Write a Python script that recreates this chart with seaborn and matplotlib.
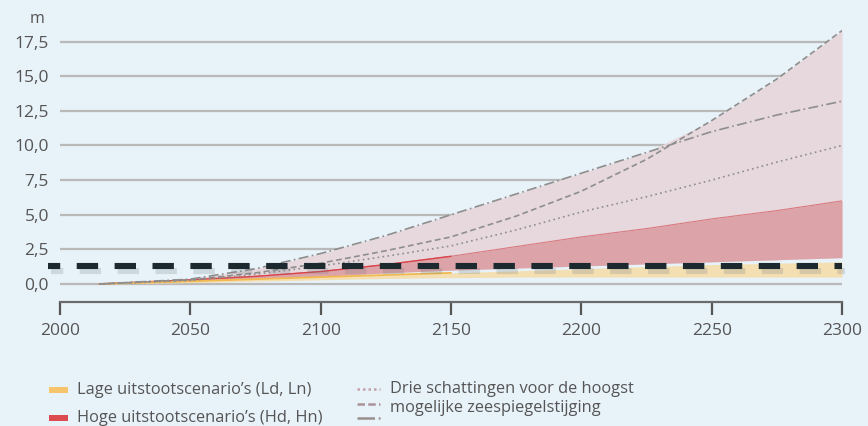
import matplotlib
matplotlib.use("Agg")
import matplotlib.pyplot as plt
import matplotlib.patheffects as pe
from matplotlib.lines import Line2D
from matplotlib.patches import Rectangle
import numpy as np
import pandas as pd
import seaborn as sns

# ---------------- data ----------------
years = [2015, 2050, 2075, 2100, 2125, 2150, 2175, 2200, 2225, 2250, 2275, 2300]
max_dotted = [0, 0.25, 0.7, 1.3, 2.0, 2.75, 3.9, 5.2, 6.3, 7.5, 8.8, 10.0]
max_dashed = [0, 0.3, 0.8, 1.5, 2.4, 3.4, 4.9, 6.7, 9.0, 11.8, 14.8, 18.3]
max_dashdot = [0, 0.35, 1.1, 2.2, 3.5, 5.0, 6.5, 8.0, 9.5, 11.0, 12.2, 13.2]
high_lo = [0, 0.15, 0.35, 0.55, 0.8, 1.0, 1.15, 1.3, 1.45, 1.6, 1.75, 1.9]
high_hi = [0, 0.3, 0.55, 0.9, 1.4, 2.0, 2.7, 3.4, 4.0, 4.7, 5.3, 6.0]
low_lo = [0, 0.1, 0.2, 0.3, 0.4, 0.45, 0.5, 0.5, 0.5, 0.5, 0.5, 0.5]
low_hi = [0, 0.2, 0.35, 0.5, 0.65, 0.8, 0.95, 1.1, 1.25, 1.4, 1.5, 1.6]
threshold = 1.3
x_ticks = [2000, 2050, 2100, 2150, 2200, 2250, 2300]
y_ticks = [0.0, 2.5, 5.0, 7.5, 10.0, 12.5, 15.0, 17.5]
y_tick_labels = ["0,0", "2,5", "5,0", "7,5", "10,0", "12,5", "15,0", "17,5"]
legend_low = "Lage uitstootscenario\u2019s (Ld, Ln)"
legend_high = "Hoge uitstootscenario\u2019s (Hd, Hn)"
legend_max = ["Drie schattingen voor de hoogst", "mogelijke zeespiegelstijging"]

# ---------------- style ----------------
BG = "#e8f2f9"
TXT = "#555555"
GRID = "#b9b9b9"
PINK = "#e6d8dc"
RED = "#dca2a6"
REDLINE = "#d9797f"
YELLOW = "#f4dfb2"
LINEC = "#8e8e8e"

sns.set_theme(style="white")
plt.rcParams["font.family"] = ["Open Sans", "DejaVu Sans"]

fig = plt.figure(figsize=(8.68, 4.26), dpi=100, facecolor=BG)
ax = fig.add_axes([60 / 868, 1 - 302 / 426, 782 / 868, 277 / 426])
ax.set_facecolor(BG)

df = pd.DataFrame({
    "year": years * 3,
    "value": max_dotted + max_dashed + max_dashdot,
    "kind": ["dotted"] * len(years) + ["dashed"] * len(years) + ["dashdot"] * len(years),
})

upper = np.maximum(np.array(max_dashed), np.array(max_dashdot))

# grid
for yv in y_ticks:
    ax.axhline(yv, color=GRID, lw=1.6, zorder=0)

# bands
ax.fill_between(years, high_lo, upper, color=PINK, lw=0, zorder=1)
ax.fill_between(years, high_lo, high_hi, color=RED, lw=0, zorder=2, alpha=0.95)
ax.plot(years, high_hi, color=REDLINE, lw=0.8, zorder=2)
ax.plot(years[:6], high_hi[:6], color="#d9444a", lw=1.0, zorder=2)
ax.fill_between(years, low_lo, low_hi, color=YELLOW, lw=0, zorder=3)
ax.plot(years[:6], low_hi[:6], color="#f2b94f", lw=1.3, zorder=3)

# lines via seaborn
sns.lineplot(data=df, x="year", y="value", style="kind",
             dashes={"dotted": (1, 2), "dashed": (3.5, 2), "dashdot": (6, 2, 1, 2)},
             color=LINEC, lw=1.2, legend=False, ax=ax, zorder=4)

# black dashed threshold
ax.plot([1995.4, 2300], [threshold, threshold], color="#1c2a30", lw=4.4,
        linestyle=(1.5, (3.5, 2.7)), dash_capstyle="butt", clip_on=False, zorder=6,
        path_effects=[pe.SimpleLineShadow(offset=(2.5, -3.5), shadow_color="#6f787e", alpha=0.22),
                      pe.Normal()])

ax.set_xlim(2000, 2300)
ax.set_ylim(-1.3, 18.7)
ax.set_xticks(x_ticks)
ax.set_xticklabels([str(v) for v in x_ticks])
ax.set_yticks(y_ticks)
ax.set_yticklabels(y_tick_labels)
ax.set_xlabel("")
ax.set_ylabel("")
for s in ["left", "top", "right"]:
    ax.spines[s].set_visible(False)
ax.spines["bottom"].set_color("#6b6b6b")
ax.spines["bottom"].set_linewidth(1.6)
ax.tick_params(axis="x", direction="out", length=9, width=1.6, color="#555555",
               labelsize=12.5, labelcolor=TXT, pad=6, bottom=True)
ax.tick_params(axis="y", length=0, labelsize=12.5, labelcolor=TXT, pad=8)

fig.text(37 / 868, 1 - 19 / 426, "m", ha="center", va="center", fontsize=11.5, color=TXT)

# legend overlay (figure pixel coordinates)
lg = fig.add_axes([0, 0, 1, 1], facecolor="none")
lg.set_xlim(0, 868)
lg.set_ylim(426, 0)
lg.axis("off")
lg.add_patch(Rectangle((49, 387), 19, 6, color="#f6c46a", lw=0))
lg.add_patch(Rectangle((49, 415), 19, 6, color="#dc4b4f", lw=0))
lg.text(77, 390, legend_low, va="center", ha="left", fontsize=11.8, color=TXT)
lg.text(77, 418, legend_high, va="center", ha="left", fontsize=11.8, color=TXT)
lg.add_line(Line2D([357, 380], [389, 389], color="#c3a3ab", lw=1.8, dashes=(1, 1.2)))
lg.add_line(Line2D([357, 380], [404, 404], color="#ad9198", lw=1.8, dashes=(3, 1.3)))
lg.add_line(Line2D([357, 380], [418, 418], color="#9a8e8e", lw=1.8, dashes=(7, 1.5, 1.5, 1.5)))
lg.text(390, 389, legend_max[0], va="center", ha="left", fontsize=11.8, color=TXT)
lg.text(390, 408, legend_max[1], va="center", ha="left", fontsize=11.8, color=TXT)

fig.savefig("out.png", dpi=100, facecolor=BG)
